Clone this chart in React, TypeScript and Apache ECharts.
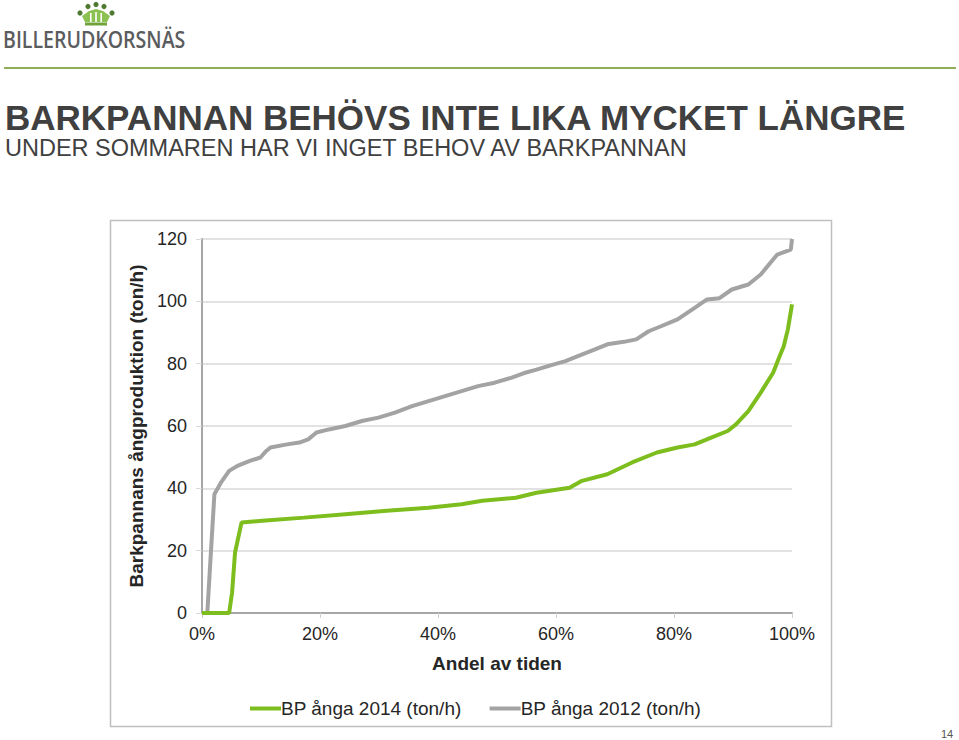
import React, { useEffect, useRef } from "react";
import * as echarts from "echarts";

const titleText = "BARKPANNAN BEHÖVS INTE LIKA MYCKET LÄNGRE";
const subtitleText = "UNDER SOMMAREN HAR VI INGET BEHOV AV BARKPANNAN";
const logoText = "BILLERUDKORSNÄS";
const pageNumber = "14";

const xAxisName = "Andel av tiden";
const yAxisName = "Barkpannans ångproduktion (ton/h)";
const seriesNames = ["BP ånga 2014 (ton/h)", "BP ånga 2012 (ton/h)"];

// BP ånga 2014 (green)
const share2014 = [0, 4.6, 5.1, 5.6, 6.7, 10.2, 17.3, 24.3, 31.3, 38.4, 44, 47.5, 53.2, 56.7, 62.3, 64.4, 68.7, 72.9, 77.1, 80.6, 83.5, 86.3, 89.1, 90.5, 92.6, 94.7, 96.8, 97.9, 98.6, 99.3, 100];
const steam2014 = [0, 0, 6.6, 19.4, 29, 29.6, 30.6, 31.7, 32.8, 33.8, 34.9, 36, 37, 38.6, 40.2, 42.4, 44.5, 48.3, 51.5, 53.1, 54.1, 56.3, 58.4, 60.5, 64.8, 70.7, 77.1, 82.4, 85.6, 91, 99];

// BP ånga 2012 (grey)
const share2012 = [0, 0.9, 1.4, 2.1, 3.2, 4.6, 6, 8.1, 9.9, 10.9, 11.6, 14.4, 16.5, 18, 19.4, 21.5, 24.3, 27.1, 29.9, 32.7, 35.6, 38.4, 41.2, 44, 46.8, 49.6, 52.5, 54.6, 56.7, 59.5, 61.6, 63.7, 66.5, 68.7, 71.5, 73.6, 75.7, 77.8, 80.6, 83.5, 85.6, 87.7, 89.8, 92.6, 94.7, 97.5, 99.8, 100];
const steam2012 = [0, 0, 16, 38.1, 41.8, 45.6, 47.2, 48.8, 49.9, 52, 53.1, 54.1, 54.7, 55.7, 57.9, 58.9, 60, 61.6, 62.7, 64.3, 66.4, 68, 69.6, 71.2, 72.8, 73.9, 75.5, 77, 78.1, 79.7, 80.8, 82.4, 84.5, 86.2, 87, 87.8, 90.4, 92, 94.2, 97.9, 100.6, 101, 103.8, 105.4, 108.6, 115, 116.6, 120];

const xTicks = { min: 0, max: 100, interval: 20 };
const yTicks = { min: 0, max: 120, interval: 20 };

const zip = (xs: number[], ys: number[]) => xs.map((x, i) => [x, ys[i]]);

export default function App() {
  const ref = useRef<HTMLDivElement>(null);
  useEffect(() => {
    document.body.style.margin = "0";
    const chart = echarts.init(ref.current!, undefined, { renderer: "svg" });
    const font = "Liberation Sans, Arial, sans-serif";
    const green = "#7dbe1e";
    const grey = "#a3a3a3";
    const option: any = {
      animation: false,
      backgroundColor: "#ffffff",
      textStyle: { fontFamily: font },
      grid: { left: 202, right: 167, top: 239, bottom: 127, containLabel: false },
      legend: {
        left: 245,
        top: 694,
        itemGap: 28,
        itemWidth: 31,
        itemHeight: 4,
        icon: "rect",
        textStyle: { fontSize: 19, color: "#262626", fontFamily: font, padding: [0, 0, 0, -5] },
        data: seriesNames,
      },
      xAxis: [
        {
          type: "value",
          min: xTicks.min,
          max: xTicks.max,
          interval: xTicks.interval,
          name: xAxisName,
          nameLocation: "middle",
          nameGap: 41,
          nameTextStyle: { fontSize: 19, fontWeight: "bold", color: "#262626", fontFamily: font },
          axisLine: { show: true, lineStyle: { color: "#d0d0d0", width: 1 } },
          axisTick: { show: true, length: 5, lineStyle: { color: "#d0d0d0" } },
          axisLabel: { fontSize: 18, color: "#262626", margin: 12, formatter: "{value}%" },
          splitLine: { show: false },
        },
        {
          type: "value",
          position: "top",
          min: xTicks.min,
          max: xTicks.max,
          axisLine: { show: true, lineStyle: { color: "#a6a6a6", width: 2 } },
          axisTick: { show: false },
          axisLabel: { show: false },
          splitLine: { show: false },
        },
      ],
      yAxis: [
        {
          type: "value",
          min: yTicks.min,
          max: yTicks.max,
          interval: yTicks.interval,
          name: yAxisName,
          nameLocation: "middle",
          nameGap: 54,
          nameRotate: 90,
          nameTextStyle: { fontSize: 19, fontWeight: "bold", color: "#262626", fontFamily: font },
          axisLine: { show: false },
          axisTick: { show: true, length: 6, lineStyle: { color: "#d9d9d9" } },
          axisLabel: { fontSize: 18, color: "#262626", margin: 15 },
          splitLine: { show: true, lineStyle: { color: "#d9d9d9", width: 1.5 } },
        },
        {
          type: "value",
          position: "right",
          min: yTicks.min,
          max: yTicks.max,
          axisLine: { show: true, lineStyle: { color: "#a6a6a6", width: 2 } },
          axisTick: { show: false },
          axisLabel: { show: false },
          splitLine: { show: false },
        },
      ],
      series: [
        {
          name: seriesNames[1],
          type: "line",
          data: zip(share2012, steam2012),
          showSymbol: false,
          itemStyle: { color: grey },
          lineStyle: { color: grey, width: 4 },
          z: 3,
        },
        {
          name: seriesNames[0],
          type: "line",
          data: zip(share2014, steam2014),
          showSymbol: false,
          itemStyle: { color: green },
          lineStyle: { color: green, width: 4 },
          z: 4,
        },
      ],
      graphic: [
        {
          type: "rect",
          shape: { x: 110.5, y: 220.5, width: 721, height: 506 },
          style: { fill: "none", stroke: "#bfbfbf", lineWidth: 1.5 },
          z: -1,
        },
        {
          type: "line",
          shape: { x1: 4, y1: 68, x2: 956, y2: 68 },
          style: { stroke: "#8fae5a", lineWidth: 2 },
        },
        {
          type: "group",
          children: [
            { type: "circle", shape: { cx: 80, cy: 13, r: 2.6 }, style: { fill: "#4f7a32" } },
            { type: "circle", shape: { cx: 88, cy: 6.5, r: 2.6 }, style: { fill: "#4f7a32" } },
            { type: "circle", shape: { cx: 96, cy: 4.5, r: 2.6 }, style: { fill: "#4f7a32" } },
            { type: "circle", shape: { cx: 104, cy: 6.5, r: 2.6 }, style: { fill: "#4f7a32" } },
            { type: "circle", shape: { cx: 112, cy: 13, r: 2.6 }, style: { fill: "#4f7a32" } },
            {
              type: "polygon",
              shape: { points: [[82, 16], [89, 11], [96, 9], [103, 11], [110, 16], [107, 22], [85, 22]] },
              style: { fill: "#8cc152" },
            },
            { type: "rect", shape: { x: 90, y: 13, width: 1.6, height: 9 }, style: { fill: "#ffffff" } },
            { type: "rect", shape: { x: 95.2, y: 12, width: 1.6, height: 10 }, style: { fill: "#ffffff" } },
            { type: "rect", shape: { x: 100.4, y: 13, width: 1.6, height: 9 }, style: { fill: "#ffffff" } },
            { type: "rect", shape: { x: 85, y: 22.5, width: 22, height: 3 }, style: { fill: "#6fa33a" } },
          ],
        },
        {
          type: "text",
          x: 3,
          y: 39,
          scaleX: 0.85,
          style: {
            text: logoText,
            font: "600 23px 'Open Sans', 'Noto Sans', sans-serif",
            fill: "#5b5c5e",
            verticalAlign: "middle",
          },
        },
        {
          type: "text",
          x: 5,
          y: 100,
          style: {
            text: titleText,
            font: "bold 35px 'Liberation Sans', Arial, sans-serif",
            fill: "#404040",
          },
        },
        {
          type: "text",
          x: 5,
          y: 136,
          style: {
            text: subtitleText,
            font: "23.5px 'Liberation Sans', Arial, sans-serif",
            fill: "#404040",
          },
        },
        {
          type: "text",
          x: 941,
          y: 728,
          style: {
            text: pageNumber,
            font: "11px 'Liberation Sans', Arial, sans-serif",
            fill: "#555555",
          },
        },
      ],
    };
    chart.setOption(option);
    return () => chart.dispose();
  }, []);
  return (
    <div
      ref={ref}
      style={{ position: "absolute", left: 0, top: 0, width: 959, height: 740 }}
    />
  );
}
